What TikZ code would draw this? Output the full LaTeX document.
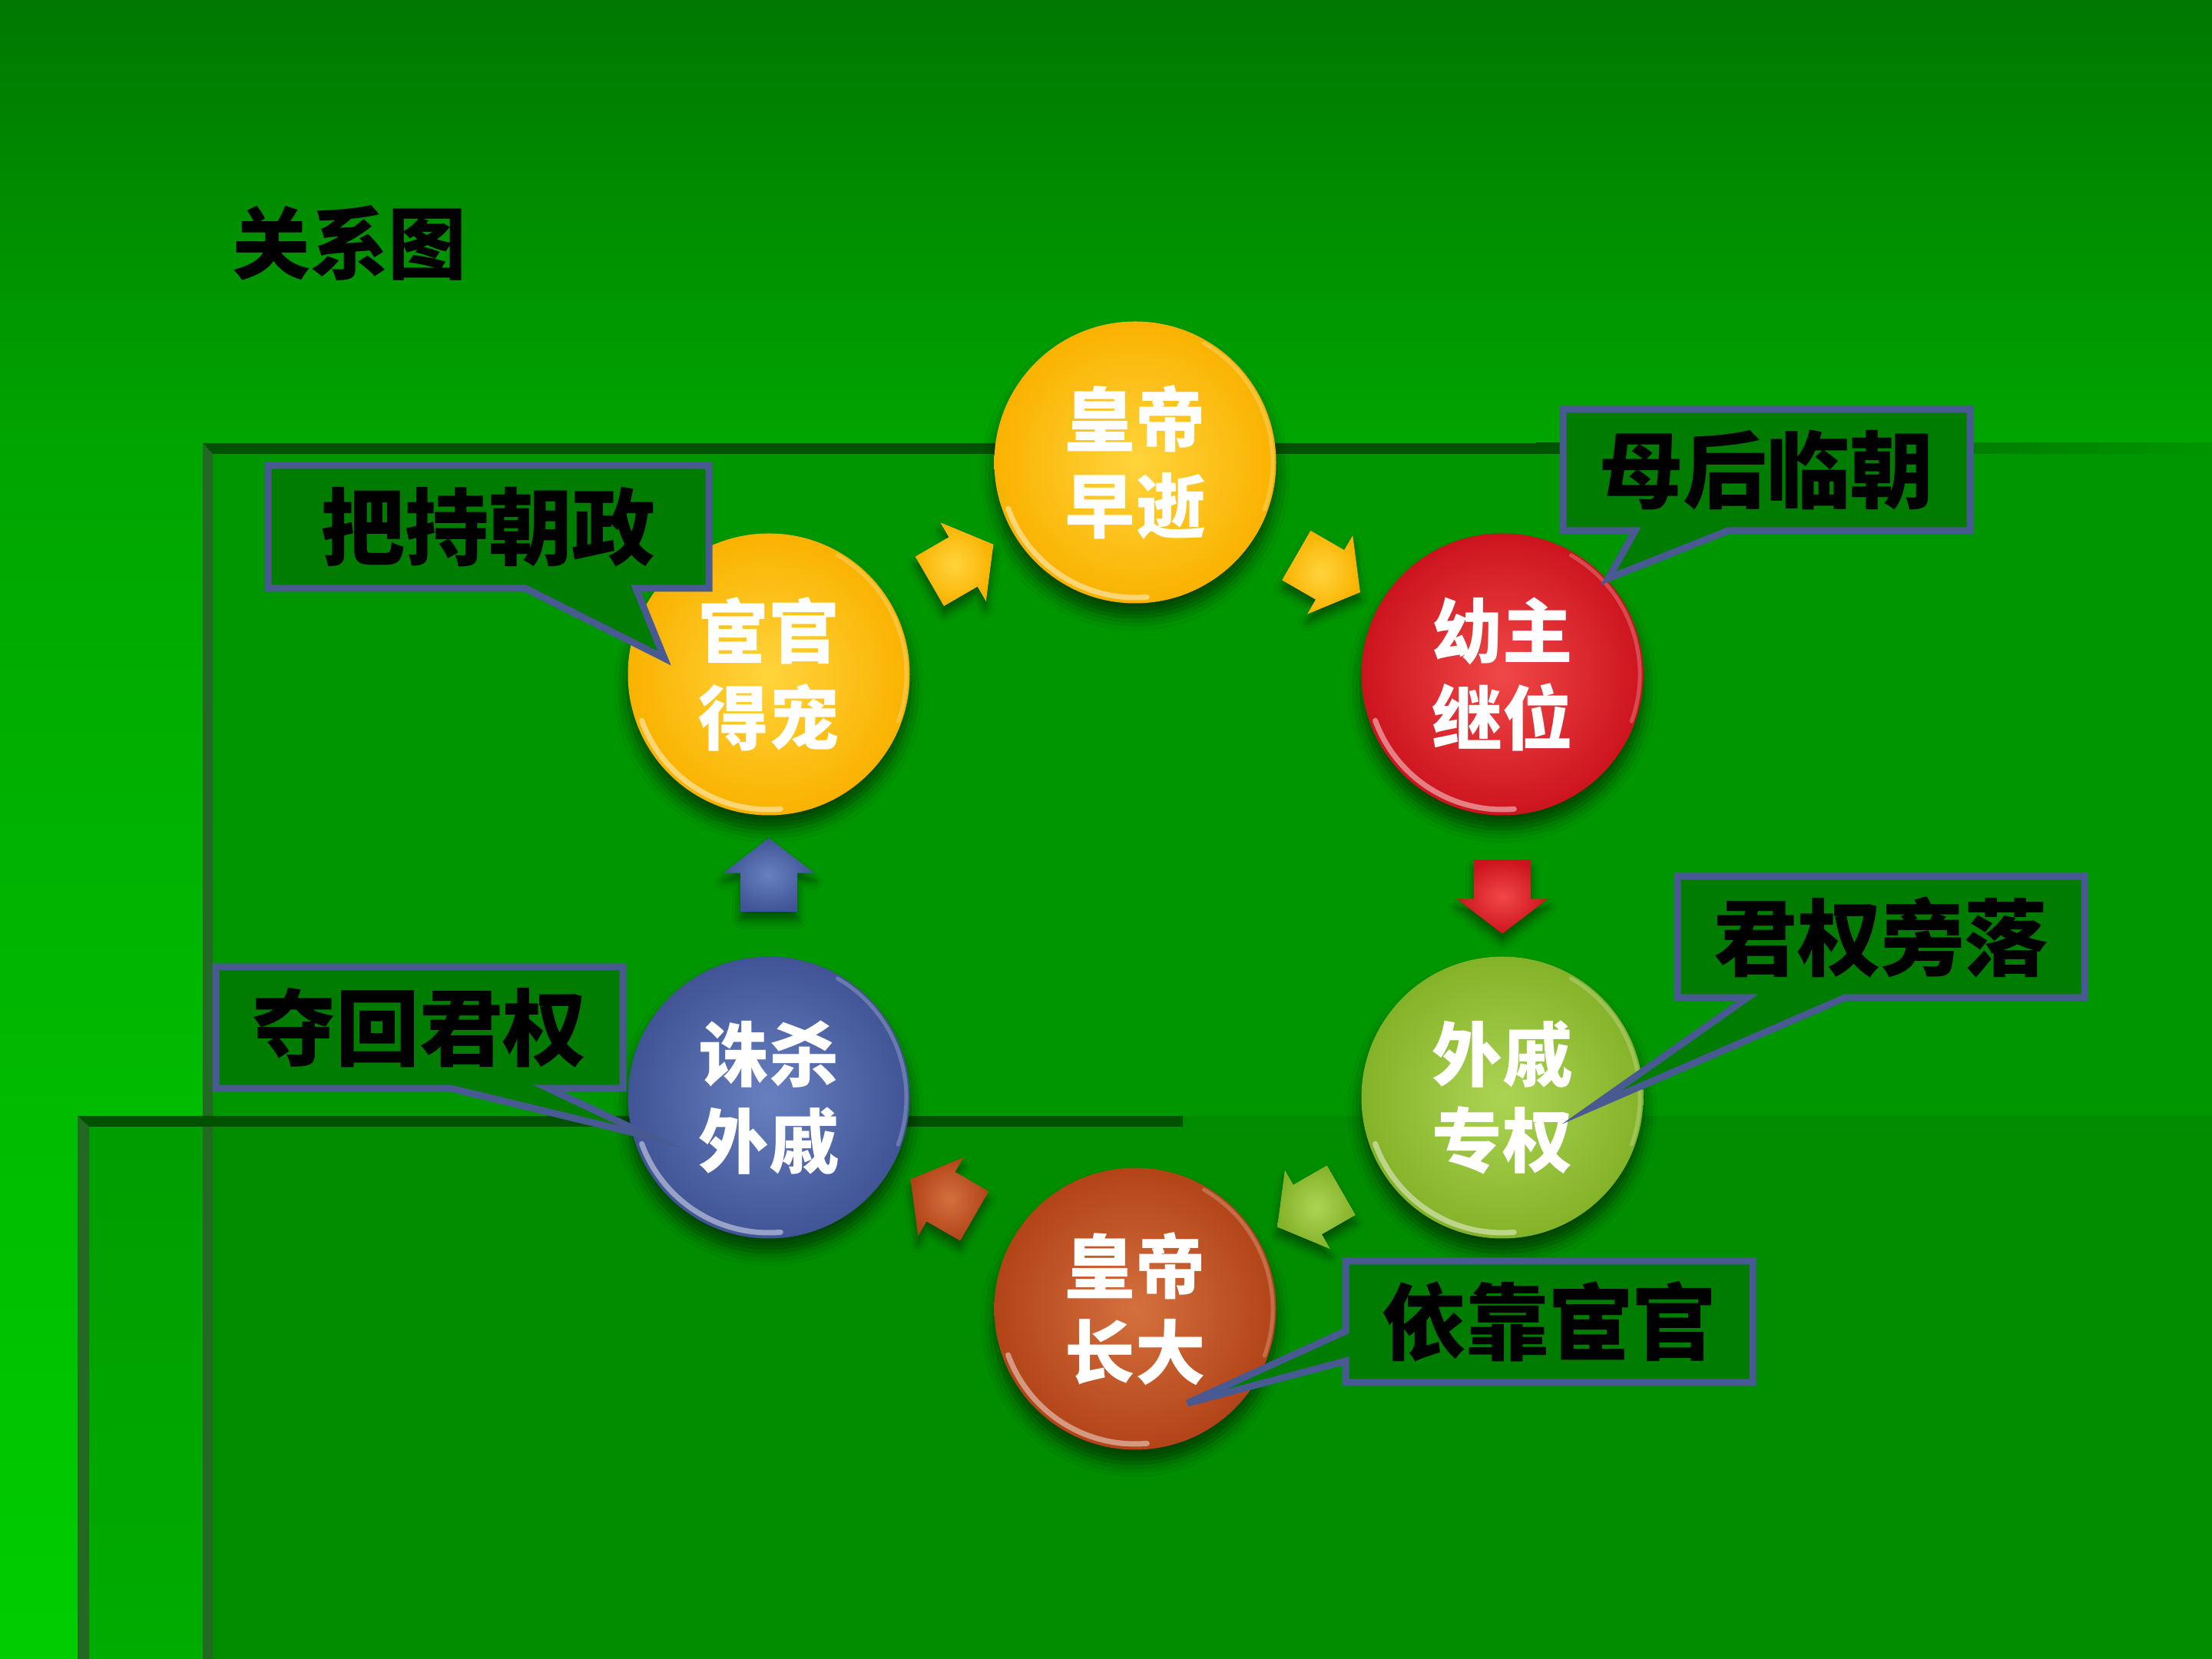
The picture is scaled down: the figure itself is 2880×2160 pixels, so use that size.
\documentclass[tikz,border=0pt]{standalone}
\usepackage{fontspec}
\setmainfont{Noto Sans CJK SC}
\usetikzlibrary{shapes.arrows,shadows.blur,calc}

\definecolor{bgtop}{RGB}{0,120,0}
\definecolor{bgmid}{RGB}{0,165,0}
\definecolor{bgbot}{RGB}{0,205,0}
\definecolor{panel}{RGB}{0,150,0}
\definecolor{rimdark}{RGB}{0,82,0}
\definecolor{rimside}{RGB}{35,105,35}
\definecolor{boxfill}{RGB}{0,124,0}
\definecolor{boxline}{RGB}{72,90,145}
\definecolor{goldin}{RGB}{255,212,60}
\definecolor{goldout}{RGB}{250,178,0}
\definecolor{redin}{RGB}{240,72,72}
\definecolor{redout}{RGB}{205,20,30}
\definecolor{limein}{RGB}{172,212,84}
\definecolor{limeout}{RGB}{132,178,40}
\definecolor{rustin}{RGB}{212,112,62}
\definecolor{rustout}{RGB}{178,68,24}
\definecolor{bluein}{RGB}{104,128,192}
\definecolor{blueout}{RGB}{64,84,150}

\tikzset{
  bubble/.style={circle, minimum size=36.7mm, inner sep=0pt, outer sep=0pt,
    shade, inner color=#1in, outer color=#1out, text=white, align=center,
    font=\bfseries\fontsize{26pt}{32pt}\selectfont,
    blur shadow={shadow xshift=0pt, shadow yshift=-5pt, shadow blur radius=5pt, shadow opacity=55}},
  flow/.style={single arrow, minimum height=9.6mm, inner xsep=0pt, inner ysep=3.65mm,
    single arrow head extend=2.2mm, single arrow tip angle=105,
    sloped, allow upside down, shade, inner color=#1in, outer color=#1out,
    blur shadow={shadow xshift=0pt, shadow yshift=-3pt, shadow blur radius=3pt, shadow opacity=45}},
  note/.style={fill=boxfill, inner sep=0pt, outer sep=0pt, text=black,
    minimum width=53mm, minimum height=15.8mm,
    font=\bfseries\fontsize{31pt}{31pt}\selectfont},
  noteline/.style={draw=boxline, line width=0.9mm, line join=miter}
}

\newcommand\shine[1]{%
  \draw[white, opacity=.45, line width=.7mm, line cap=round]
    ($(#1)+(200:17.6mm)$) arc[start angle=200, end angle=275, radius=17.6mm];
  \draw[white, opacity=.22, line width=.5mm, line cap=round]
    ($(#1)+(-20:17.9mm)$) arc[start angle=-20, end angle=60, radius=17.9mm];}

\newcommand\bottomtip[3]{%
  \fill[boxfill] ($(#1.south west)+(#2,0)$) -- (#1 tip) -- ($(#1.south west)+(#3,0)$) -- cycle;
  \draw[noteline] (#1.north west) -- (#1.north east) -- (#1.south east)
    -- ($(#1.south west)+(#3,0)$) -- (#1 tip) -- ($(#1.south west)+(#2,0)$)
    -- (#1.south west) -- cycle;}

\begin{document}
\begin{tikzpicture}[x=0.1mm,y=0.1mm]
\useasboundingbox (0,0) rectangle (2880,2160);

% background and frames
\fill[top color=bgtop, bottom color=bgmid] (0,1583) rectangle (2880,2160);
\fill[top color=bgmid, bottom color=bgbot] (0,0) rectangle (2880,1583);
\fill[black, opacity=.16] (101,0) rectangle (2880,707);
\fill[panel] (264,0) rectangle (2880,1583);
\fill[black, opacity=.05] (277,0) rectangle (2880,693);
\fill[rimdark] (264,1583) -- (2000,1583) -- (2000,1569) -- (277,1569) -- cycle;
\fill[left color=rimdark, right color=panel] (2000,1569) rectangle (2880,1583);
\fill[rimside] (264,1583) -- (277,1569) -- (277,0) -- (264,0) -- cycle;
\fill[rimdark] (101,707) -- (1540,707) -- (1540,693) -- (116,693) -- cycle;
\fill[black, opacity=.07] (1540,693) rectangle (2880,707);
\fill[rimside] (101,707) -- (116,693) -- (116,0) -- (101,0) -- cycle;

\node[font=\bfseries\fontsize{29pt}{29pt}\selectfont] (title) at (455,1844) {关系图};

% cycle
\node[bubble=gold] (huanguan) at (1001,1282) {宦官\\得宠};
\node[bubble=gold] (zaoshi) at (1478,1558) {皇帝\\早逝};
\node[bubble=red] (youzhu) at (1956,1282) {幼主\\继位};
\node[bubble=lime] (waiqi) at (1956,731) {外戚\\专权};
\node[bubble=rust] (zhangda) at (1478,456) {皇帝\\长大};
\node[bubble=blue] (zhusha) at (1001,731) {诛杀\\外戚};
\foreach \c in {huanguan,zaoshi,youzhu,waiqi,zhangda,zhusha} {\shine{\c}}

\path (huanguan) -- node[flow=gold] {} (zaoshi);
\path (zaoshi) -- node[flow=gold] {} (youzhu);
\path (youzhu) -- node[flow=red] {} (waiqi);
\path (waiqi) -- node[flow=lime] {} (zhangda);
\path (zhangda) -- node[flow=rust] {} (zhusha);
\path (zhusha) -- node[flow=blue] {} (huanguan);

% callouts
\node[note, minimum width=57.4mm, minimum height=16mm] (bachi) at (636,1474) {把持朝政};
\coordinate (bachi tip) at (865,1303);
\bottomtip{bachi}{335}{479}

\node[note] (muhou) at (2300,1548) {母后临朝};
\coordinate (muhou tip) at (2094,1407);
\bottomtip{muhou}{94}{215}

\node[note] (junquan) at (2449,940) {君权旁落};
\coordinate (junquan tip) at (2072,718);
\bottomtip{junquan}{91}{218}

\node[note] (duohui) at (546,822) {夺回君权};
\coordinate (duohui tip) at (847,680);
\bottomtip{duohui}{306}{433}

\node[note] (yikao) at (2017,439) {依靠宦官};
\coordinate (yikao tip) at (1546,333);
\fill[boxfill] ($(yikao.south west)+(0,28)$) -- (yikao tip) -- ($(yikao.south west)+(0,67)$) -- cycle;
\draw[noteline] (yikao.north west) -- (yikao.north east) -- (yikao.south east) -- (yikao.south west)
  -- ($(yikao.south west)+(0,28)$) -- (yikao tip) -- ($(yikao.south west)+(0,67)$) -- cycle;
\end{tikzpicture}
\end{document}
